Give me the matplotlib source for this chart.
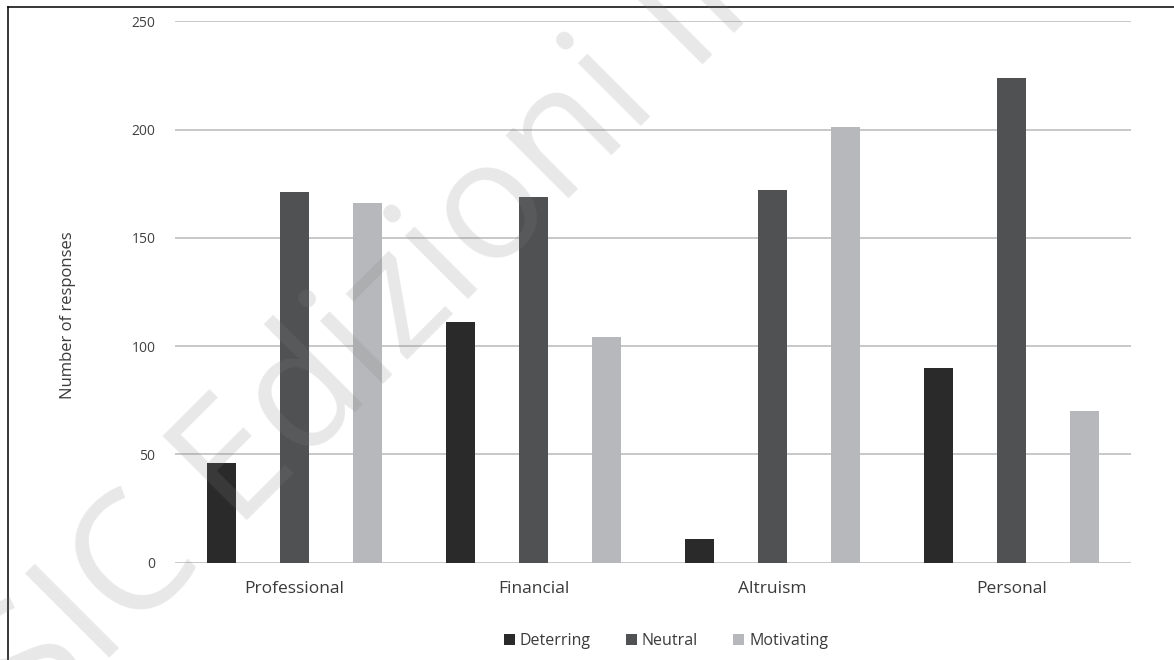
import matplotlib
matplotlib.use("Agg")
import matplotlib.pyplot as plt
from matplotlib.lines import Line2D
from matplotlib.patches import Patch
import numpy as np

plt.rcParams['font.family'] = ['Open Sans', 'DejaVu Sans']

categories = ["Professional", "Financial", "Altruism", "Personal"]
deterring = [46, 111, 11, 90]
neutral = [171, 169, 172, 224]
motivating = [166, 104, 201, 70]
series_names = ["Deterring", "Neutral", "Motivating"]
series_colors = ["#2a2a2a", "#505153", "#b7b8bb"]
y_ticks = [0, 50, 100, 150, 200, 250]

W, H = 1174, 660
fig = plt.figure(figsize=(W / 100, H / 100), dpi=100)
ax = fig.add_axes([175 / W, 1 - 562.7 / H, (1131 - 175) / W, (562.7 - 21.3) / H])

x = np.arange(len(categories))
offsets = [-0.305, 0.0, 0.305]
width = 0.122
for vals, off, col in zip([deterring, neutral, motivating], offsets, series_colors):
    ax.bar(x + off, vals, width=width, color=col, zorder=3)

ax.set_xlim(-0.5, len(categories) - 0.5)
ax.set_ylim(0, 250)
ax.set_yticks(y_ticks)
ax.set_yticklabels([str(t) for t in y_ticks], fontsize=10, color="#404040")
ax.set_xticks(x)
ax.set_xticklabels(categories, fontsize=12.5, color="#3a3a3a")
ax.tick_params(axis="y", length=0, pad=14)
ax.tick_params(axis="x", length=0, pad=13)
ax.yaxis.grid(True, color="#c8c8c8", linewidth=1.4, zorder=0)
ax.set_axisbelow(True)
for s in ax.spines.values():
    s.set_visible(False)

fig.text(68 / W, 1 - 315 / H, "Number of responses", rotation=90,
         ha="center", va="center", fontsize=12, color="#3a3a3a")

handles = [Patch(facecolor=c, edgecolor="none") for c in series_colors]
fig.legend(handles, series_names, loc="center", bbox_to_anchor=(666 / W, 1 - 641 / H),
           ncol=3, frameon=False, fontsize=11.5, handlelength=0.7, handleheight=0.7,
           handletextpad=0.3, columnspacing=2.2, labelcolor="#3a3a3a")

# page frame
fig.add_artist(Line2D([8 / W, 8 / W], [0, 1 - 7 / H], color="black", lw=1.1,
                      transform=fig.transFigure))
fig.add_artist(Line2D([8 / W, 1], [1 - 7 / H, 1 - 7 / H], color="black", lw=1.1,
                      transform=fig.transFigure))

# publisher watermark, running off the top edge of the page
fig.text(34 / W, 1 - 734 / H, "SIC Edizioni In", rotation=45,
         rotation_mode="anchor", ha="left", va="baseline", fontsize=120,
         fontweight="medium", color="#828282", alpha=0.18, zorder=10)

fig.savefig("out.png", dpi=100)
